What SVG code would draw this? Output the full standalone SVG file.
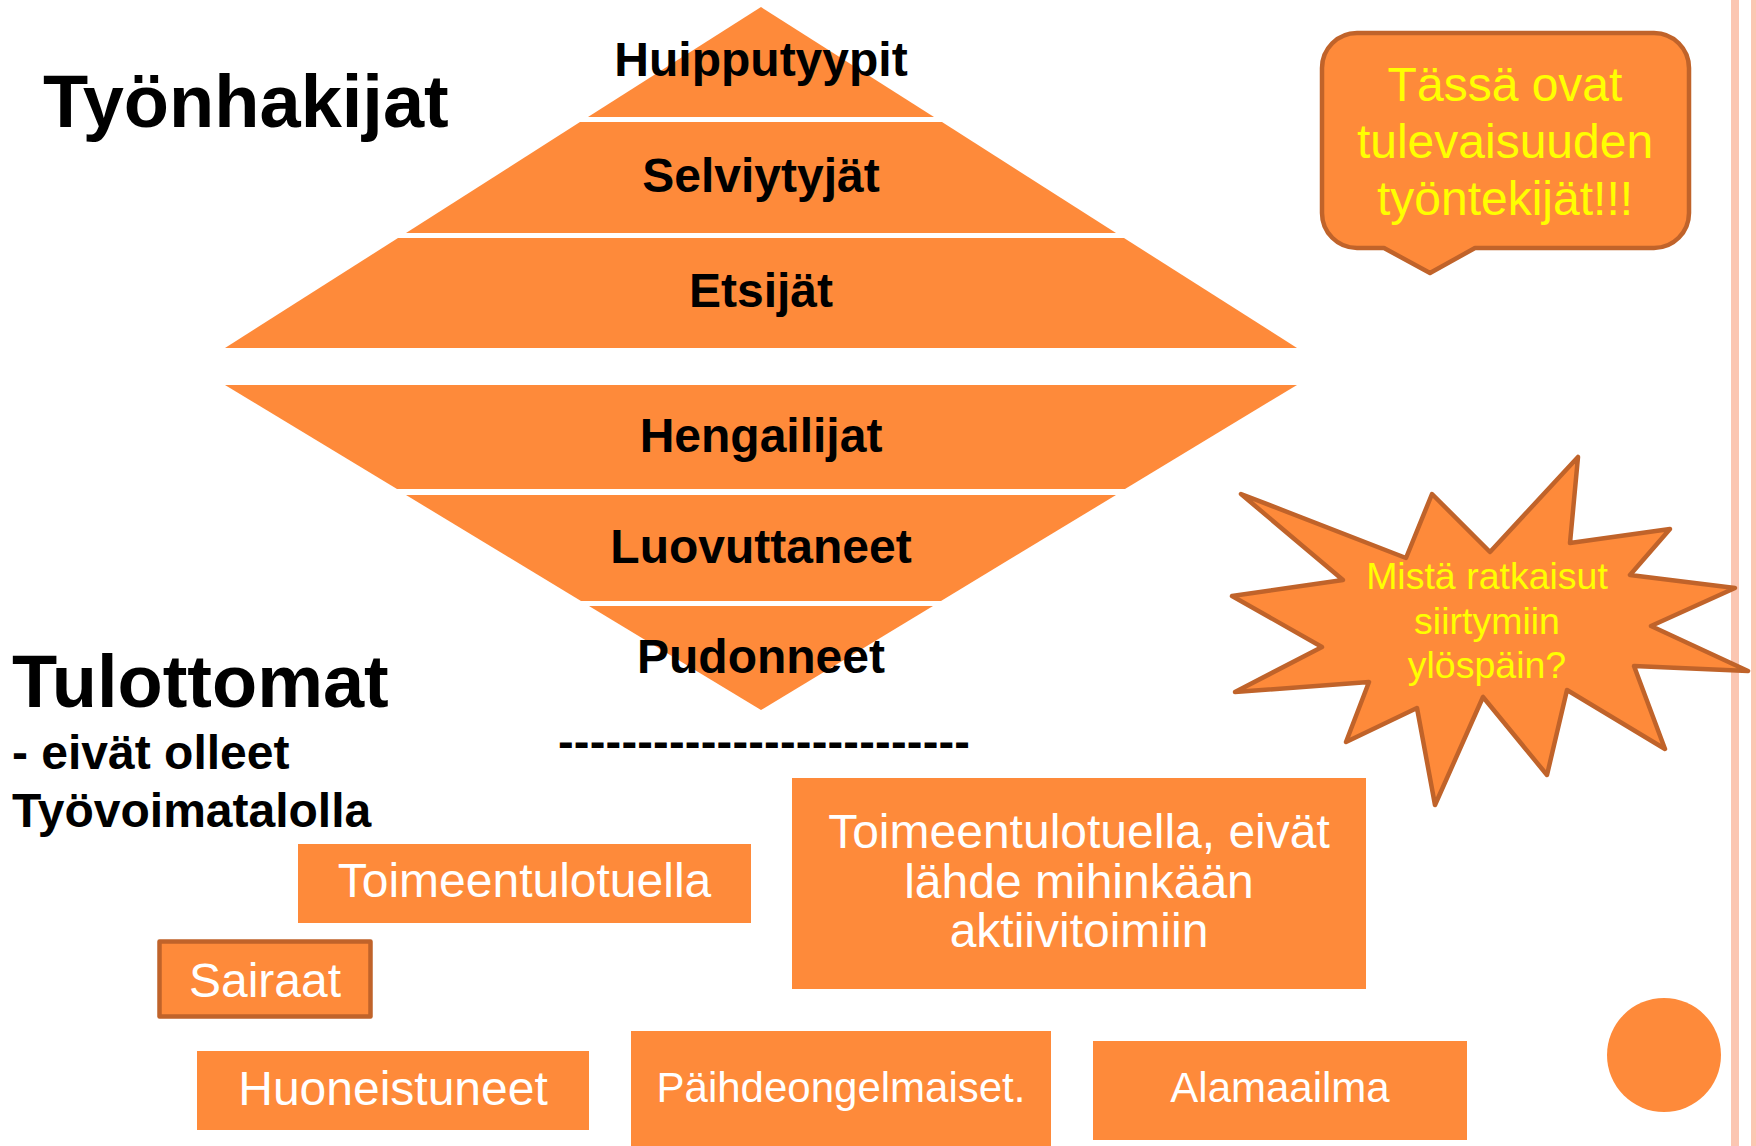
<svg xmlns="http://www.w3.org/2000/svg" width="1756" height="1146" viewBox="0 0 1756 1146">
<style>
.o{fill:#FE8A3A}
.os{fill:#FE8A3A;stroke:#C0632A;stroke-width:4.5;stroke-linejoin:round}
.lb{font-family:"Liberation Sans",Arial,sans-serif;font-weight:bold;font-size:48px;fill:#000;text-anchor:middle}
.h{font-family:"Liberation Sans",Arial,sans-serif;font-weight:bold;fill:#000}
.w{font-family:"Liberation Sans",Arial,sans-serif;font-size:48px;fill:#fff;text-anchor:middle}
.ws{font-size:42px}
.y{font-family:"Liberation Sans",Arial,sans-serif;fill:#FFFF00;text-anchor:middle}
</style>
<rect width="1756" height="1146" fill="#fff"/>
<rect x="1731" y="0" width="8" height="1146" fill="#FBC6B2"/>
<rect x="1751" y="0" width="5" height="1146" fill="#FBC6B2"/>

<g id="headings">
<text class="h" x="43" y="127" font-size="74">Työnhakijat</text>
<text class="h" x="12" y="707" font-size="74">Tulottomat</text>
<text class="h" x="12" y="769" font-size="48">- eivät olleet</text>
<text class="h" x="12" y="827" font-size="48">Työvoimatalolla</text>
<text class="h" x="558" y="757" font-size="47" textLength="412" lengthAdjust="spacing">--------------------------</text>
</g>

<g id="huipputyypit"><polygon class="o" points="761,7 934,117 588,117"/><text class="lb" x="761" y="76">Huipputyypit</text></g>
<g id="selviytyjat"><polygon class="o" points="580,122 942,122 1116,233 406,233"/><text class="lb" x="761" y="192">Selviytyjät</text></g>
<g id="etsijat"><polygon class="o" points="398,238 1124,238 1297,348 225,348"/><text class="lb" x="761" y="307">Etsijät</text></g>
<g id="hengailijat"><polygon class="o" points="225,385 1297,385 1125,489 397,489"/><text class="lb" x="761" y="452">Hengailijat</text></g>
<g id="luovuttaneet"><polygon class="o" points="406,495 1116,495 941,601 581,601"/><text class="lb" x="761" y="563">Luovuttaneet</text></g>
<g id="pudonneet"><polygon class="o" points="589,606 933,606 761,710"/><text class="lb" x="761" y="673">Pudonneet</text></g>

<g id="callout">
<path class="os" d="M1357,33 H1654 A35,35 0 0 1 1689,68 V213 A35,35 0 0 1 1654,248 H1475 L1430,273 L1384,248 H1357 A35,35 0 0 1 1322,213 V68 A35,35 0 0 1 1357,33 Z"/>
<text class="y" font-size="48" x="1505" y="101">Tässä ovat</text>
<text class="y" font-size="48" x="1505" y="158">tulevaisuuden</text>
<text class="y" font-size="48" x="1505" y="215">työntekijät!!!</text>
</g>

<g id="star">
<polygon class="os" points="1241,494 1406,558 1432,494 1490,552 1578,457 1570,543 1670,529 1630,575 1735,588 1651,626 1748,671 1634,666 1665,749 1567,690 1547,775 1483,697 1435,805 1417,708 1346,742 1369,682 1235,692 1322,647 1232,596 1343,580"/>
<text class="y" font-size="37.5" x="1487" y="589">Mistä ratkaisut</text>
<text class="y" font-size="37.5" x="1487" y="634">siirtymiin</text>
<text class="y" font-size="37.5" x="1487" y="678">ylöspäin?</text>
</g>

<g id="toimeentulotuella"><rect class="o" x="298" y="844" width="453" height="79"/><text class="w" x="524.5" y="897">Toimeentulotuella</text></g>
<g id="sairaat"><rect class="os" x="159.5" y="941.5" width="211" height="75" stroke-width="5"/><text class="w" x="265" y="997">Sairaat</text></g>
<g id="huoneistuneet"><rect class="o" x="197" y="1051" width="392" height="79"/><text class="w" x="393" y="1105">Huoneistuneet</text></g>
<g id="aktiivitoimiin"><rect class="o" x="792" y="778" width="574" height="211"/>
<text class="w" x="1079" y="848">Toimeentulotuella, eivät</text>
<text class="w" x="1079" y="898">lähde mihinkään</text>
<text class="w" x="1079" y="947">aktiivitoimiin</text></g>
<g id="paihdeongelmaiset"><rect class="o" x="631" y="1031" width="420" height="115"/><text class="w ws" x="841" y="1102">Päihdeongelmaiset.</text></g>
<g id="alamaailma"><rect class="o" x="1093" y="1041" width="374" height="99"/><text class="w ws" x="1280" y="1102">Alamaailma</text></g>
<g id="circle"><circle class="o" cx="1664" cy="1055" r="57"/></g>
<g id="connectors"></g>
</svg>
